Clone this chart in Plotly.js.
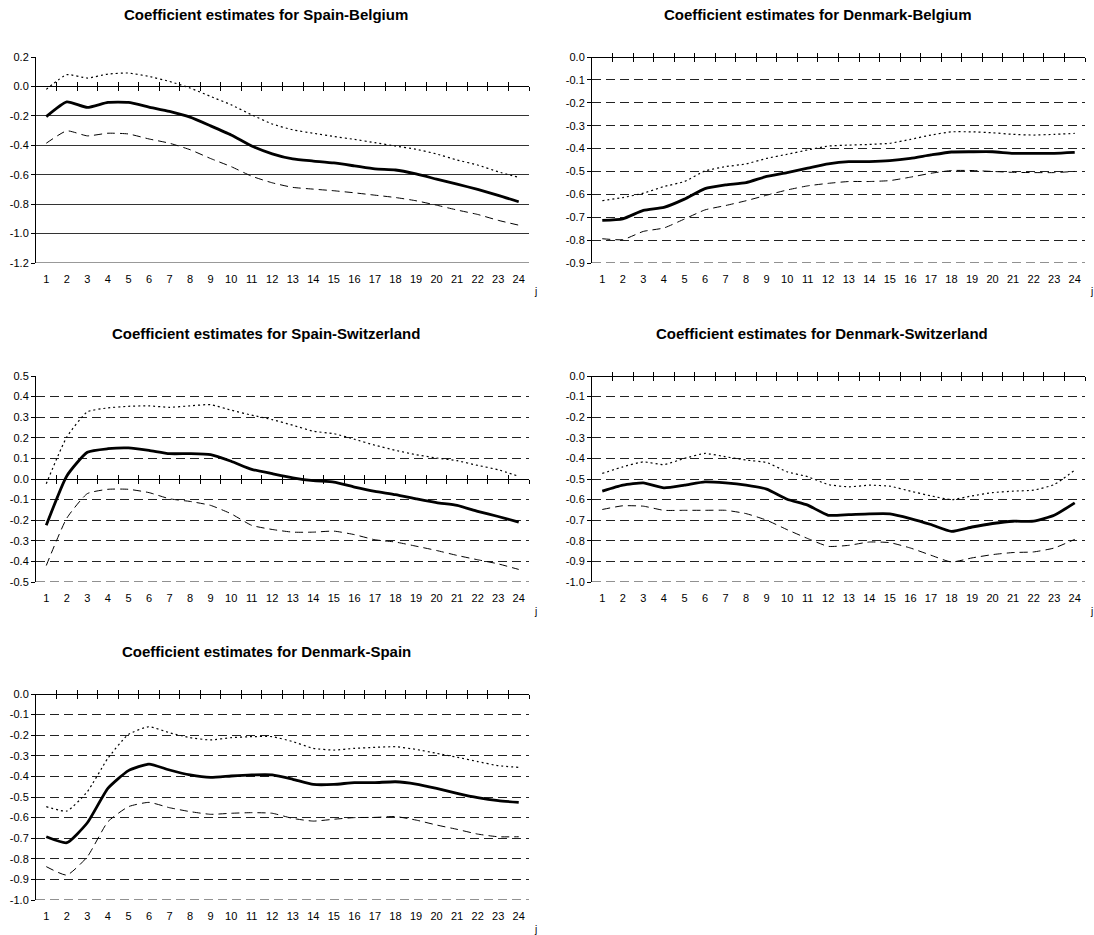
<!DOCTYPE html>
<html>
<head>
<meta charset="utf-8">
<script src="https://cdn.plot.ly/plotly-3.0.1.min.js"></script>
<style>
  html, body { margin: 0; padding: 0; background: #fff; }
  #chart { width: 1094px; height: 935px; }
</style>
</head>
<body>
<div id="chart"></div>
<script>
// ---- data ----
const lags = [1,2,3,4,5,6,7,8,9,10,11,12,13,14,15,16,17,18,19,20,21,22,23,24];

const titles = [
  "Coefficient estimates for Spain-Belgium",
  "Coefficient estimates for Denmark-Belgium",
  "Coefficient estimates for Spain-Switzerland",
  "Coefficient estimates for Denmark-Switzerland",
  "Coefficient estimates for Denmark-Spain"
];

// Spain-Belgium
const esBeUpper = [-0.02,0.08,0.057,0.084,0.091,0.068,0.034,-0.011,-0.068,-0.125,-0.193,-0.255,-0.295,-0.318,-0.34,-0.36,-0.382,-0.405,-0.427,-0.459,-0.50,-0.534,-0.58,-0.618];
const esBeEst   = [-0.205,-0.105,-0.143,-0.109,-0.109,-0.14,-0.17,-0.209,-0.268,-0.33,-0.405,-0.458,-0.493,-0.507,-0.52,-0.54,-0.561,-0.568,-0.595,-0.63,-0.664,-0.70,-0.74,-0.784];
const esBeLower = [-0.386,-0.302,-0.336,-0.318,-0.323,-0.357,-0.386,-0.43,-0.49,-0.545,-0.61,-0.655,-0.686,-0.698,-0.709,-0.723,-0.739,-0.755,-0.777,-0.807,-0.84,-0.87,-0.91,-0.943];

// Denmark-Belgium
const dkBeUpper = [-0.628,-0.614,-0.595,-0.566,-0.544,-0.498,-0.479,-0.467,-0.443,-0.425,-0.406,-0.389,-0.385,-0.382,-0.377,-0.36,-0.341,-0.327,-0.327,-0.331,-0.338,-0.341,-0.338,-0.334];
const dkBeEst   = [-0.714,-0.707,-0.67,-0.657,-0.621,-0.575,-0.559,-0.549,-0.522,-0.505,-0.486,-0.467,-0.457,-0.457,-0.453,-0.443,-0.428,-0.415,-0.414,-0.414,-0.421,-0.421,-0.421,-0.417];
const dkBeLower = [-0.794,-0.798,-0.762,-0.747,-0.708,-0.668,-0.649,-0.628,-0.604,-0.581,-0.563,-0.552,-0.544,-0.544,-0.54,-0.525,-0.508,-0.496,-0.496,-0.50,-0.504,-0.505,-0.505,-0.50];

// Spain-Switzerland
const esChUpper = [-0.023,0.204,0.326,0.345,0.353,0.355,0.348,0.355,0.361,0.334,0.31,0.288,0.261,0.232,0.22,0.193,0.164,0.139,0.118,0.102,0.089,0.066,0.045,0.013];
const esChEst   = [-0.225,0.015,0.13,0.147,0.151,0.139,0.123,0.123,0.118,0.086,0.047,0.026,0.006,-0.008,-0.015,-0.039,-0.06,-0.076,-0.096,-0.115,-0.128,-0.157,-0.182,-0.209];
const esChLower = [-0.42,-0.19,-0.071,-0.05,-0.05,-0.066,-0.096,-0.109,-0.128,-0.169,-0.225,-0.245,-0.258,-0.258,-0.253,-0.27,-0.295,-0.306,-0.326,-0.347,-0.371,-0.392,-0.412,-0.439];

// Denmark-Switzerland
const dkChUpper = [-0.473,-0.441,-0.417,-0.43,-0.40,-0.376,-0.392,-0.408,-0.42,-0.465,-0.489,-0.527,-0.538,-0.53,-0.535,-0.559,-0.582,-0.60,-0.582,-0.566,-0.559,-0.554,-0.527,-0.457];
const dkChEst   = [-0.559,-0.53,-0.519,-0.543,-0.53,-0.514,-0.519,-0.53,-0.549,-0.598,-0.627,-0.676,-0.673,-0.669,-0.669,-0.692,-0.721,-0.754,-0.733,-0.716,-0.705,-0.705,-0.676,-0.616];
const dkChLower = [-0.648,-0.63,-0.632,-0.652,-0.652,-0.652,-0.652,-0.668,-0.70,-0.746,-0.789,-0.827,-0.822,-0.806,-0.809,-0.835,-0.87,-0.903,-0.883,-0.867,-0.857,-0.854,-0.835,-0.793];

// Denmark-Spain
const dkEsUpper = [-0.547,-0.568,-0.474,-0.312,-0.196,-0.159,-0.188,-0.212,-0.223,-0.212,-0.207,-0.207,-0.231,-0.264,-0.272,-0.264,-0.259,-0.256,-0.269,-0.288,-0.307,-0.328,-0.348,-0.356];
const dkEsEst   = [-0.693,-0.722,-0.625,-0.458,-0.372,-0.34,-0.369,-0.393,-0.405,-0.398,-0.393,-0.393,-0.414,-0.439,-0.439,-0.43,-0.43,-0.426,-0.437,-0.458,-0.482,-0.503,-0.518,-0.526];
const dkEsLower = [-0.838,-0.879,-0.79,-0.62,-0.547,-0.526,-0.552,-0.571,-0.584,-0.579,-0.576,-0.579,-0.604,-0.617,-0.608,-0.60,-0.599,-0.595,-0.612,-0.636,-0.657,-0.68,-0.693,-0.693];

// y-axis tick ranges (min, max, step) per panel
const yMins  = [-1.2, -0.9, -0.5, -1.0, -1.0];
const yMaxs  = [ 0.2,  0.0,  0.5,  0.0,  0.0];
const ySteps = [ 0.2,  0.1,  0.1,  0.1,  0.1];
const xLabel = "j";

// ---- layout geometry (pixels) ----
const W = 1094, H = 935;
const panels = [
  {left: 36,  right: 529,  top: 57,  bottom: 263, solidGrid: true},
  {left: 592, right: 1085, top: 57,  bottom: 263, solidGrid: false},
  {left: 36,  right: 529,  top: 376, bottom: 582, solidGrid: false},
  {left: 592, right: 1085, top: 376, bottom: 582, solidGrid: false},
  {left: 36,  right: 529,  top: 694, bottom: 900, solidGrid: false}
];
const series = [
  [esBeUpper, esBeEst, esBeLower],
  [dkBeUpper, dkBeEst, dkBeLower],
  [esChUpper, esChEst, esChLower],
  [dkChUpper, dkChEst, dkChLower],
  [dkEsUpper, dkEsEst, dkEsLower]
];
const titleCenters = [266, 818, 266, 822, 266];

const FONT = "Liberation Sans, Arial, sans-serif";
const data = [];
const layout = {
  width: W, height: H,
  margin: {l: 0, r: 0, t: 0, b: 0},
  paper_bgcolor: "#fff", plot_bgcolor: "#fff",
  showlegend: false,
  font: {family: FONT, size: 11, color: "#000"},
  annotations: [],
  shapes: []
};

function axName(n) { return n === 1 ? "" : String(n); }

panels.forEach((p, i) => {
  const xa = i * 3 + 1, xb = i * 3 + 2, xc = i * 3 + 3, ya = i + 1;
  const xdom = [p.left / W, p.right / W];
  const ydom = [1 - p.bottom / H, 1 - p.top / H];
  const xr = [lags[0] - 0.5, lags[lags.length - 1] + 0.5];
  const yr = [yMins[i], yMaxs[i]];

  const yvals = [];
  const nT = Math.round((yMaxs[i] - yMins[i]) / ySteps[i]);
  for (let k = 0; k <= nT; k++) yvals.push(Math.round((yMins[i] + k * ySteps[i]) * 10) / 10);
  const ytext = yvals.map(v => (Math.abs(v) < 1e-9 ? 0 : v).toFixed(1));

  const [up, est, lo] = series[i];
  const xs = "x" + axName(xa), ys = "y" + axName(ya);
  data.push({x: lags, y: up, xaxis: xs, yaxis: ys, mode: "lines", hoverinfo: "skip",
             line: {color: "#000", width: 1.2, dash: "2px,3px", shape: "spline", smoothing: 0.5}});
  data.push({x: lags, y: lo, xaxis: xs, yaxis: ys, mode: "lines", hoverinfo: "skip",
             line: {color: "#000", width: 1, dash: "8px,5px", shape: "spline", smoothing: 0.5}});
  data.push({x: lags, y: est, xaxis: xs, yaxis: ys, mode: "lines", hoverinfo: "skip",
             line: {color: "#000", width: 2.8, shape: "spline", smoothing: 0.5}});
  // invisible traces to register the zero-crossing axes
  data.push({x: lags, y: est, xaxis: "x" + axName(xb), yaxis: ys, mode: "lines", hoverinfo: "skip", opacity: 0, line: {width: 0}});
  data.push({x: lags, y: est, xaxis: "x" + axName(xc), yaxis: ys, mode: "lines", hoverinfo: "skip", opacity: 0, line: {width: 0}});

  const zeroPos = ydom[0] + (0 - yr[0]) / (yr[1] - yr[0]) * (ydom[1] - ydom[0]);
  const boundaryTicks = lags.map(v => v + 0.5);
  const gridColor = p.solidGrid ? "#333" : "#222";
  const gridDash = p.solidGrid ? "solid" : "9px,5px";

  layout["xaxis" + axName(xa)] = {
    domain: xdom, range: xr, anchor: ys, fixedrange: true,
    showline: false, showgrid: false, zeroline: false,
    ticks: "", ticklabelstandoff: 8,
    tickvals: lags, ticktext: lags.map(String),
    tickfont: {family: FONT, size: 11, color: "#000"}
  };
  const crossAx = (dir) => ({
    domain: xdom, range: xr, overlaying: xs, anchor: "free", position: zeroPos,
    fixedrange: true, showline: true, linecolor: "#000", linewidth: 1,
    showgrid: false, zeroline: false, showticklabels: false,
    ticks: dir, ticklen: 4, tickwidth: 1, tickcolor: "#000",
    tickvals: boundaryTicks
  });
  layout["xaxis" + axName(xb)] = crossAx("outside");
  layout["xaxis" + axName(xc)] = crossAx("inside");

  layout["yaxis" + axName(ya)] = {
    domain: ydom, range: yr, anchor: xs, fixedrange: true,
    showline: true, linecolor: "#000", linewidth: 1,
    ticks: "outside", ticklen: 4, tickwidth: 1, tickcolor: "#000",
    tickvals: yvals, ticktext: ytext,
    tickfont: {family: FONT, size: 11, color: "#000"},
    showgrid: true, gridcolor: gridColor, gridwidth: 1,
    griddash: gridDash,
    zeroline: false
  };

  // bottom gridline (Plotly drops the gridline at the lower range end)
  layout.shapes.push({
    type: "line", xref: xs + " domain", yref: ys,
    x0: 0, x1: 1, y0: yMins[i], y1: yMins[i],
    line: {color: gridColor, width: 1, dash: gridDash}, layer: "below"
  });

  layout.annotations.push({
    text: titles[i], xref: "paper", yref: "paper",
    x: titleCenters[i] / W, y: 1 - (p.top - 43) / H,
    xanchor: "center", yanchor: "middle", showarrow: false,
    font: {family: FONT, size: 15, color: "#000", weight: "bold"}
  });
  layout.annotations.push({
    text: xLabel, xref: "paper", yref: "paper",
    x: (p.right + 6) / W, y: 1 - (p.bottom + 29) / H,
    xanchor: "center", yanchor: "middle", showarrow: false,
    font: {family: FONT, size: 10, color: "#000"}
  });
});

Plotly.newPlot("chart", data, layout, {staticPlot: true, displayModeBar: false});
</script>
</body>
</html>
